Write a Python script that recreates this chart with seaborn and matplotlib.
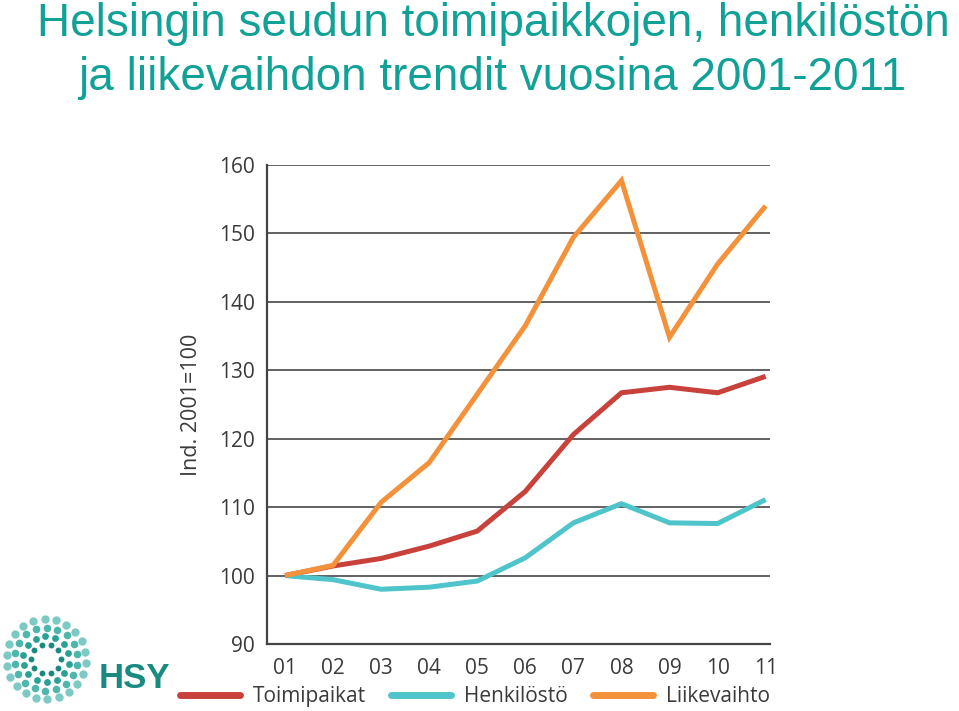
import numpy as np
import pandas as pd
import seaborn as sns
import matplotlib.pyplot as plt
from matplotlib.lines import Line2D

years = ["01", "02", "03", "04", "05", "06", "07", "08", "09", "10", "11"]
toimipaikat = [100, 101.4, 102.5, 104.3, 106.5, 112.3, 120.6, 126.7, 127.5, 126.7, 129.1]
henkilosto = [100, 99.4, 98.0, 98.3, 99.2, 102.6, 107.7, 110.5, 107.7, 107.6, 111.1]
liikevaihto = [100, 101.5, 110.7, 116.5, 126.5, 136.5, 149.4, 157.7, 134.8, 145.5, 154.0]
series_names = ["Toimipaikat", "Henkilöstö", "Liikevaihto"]
yticks = [90, 100, 110, 120, 130, 140, 150, 160]

colors = ["#c8413a", "#4fc4ca", "#f3923a"]

df = pd.DataFrame({
    "x": list(range(len(years))) * 3,
    "value": toimipaikat + henkilosto + liikevaihto,
    "series": [series_names[0]] * len(years) + [series_names[1]] * len(years) + [series_names[2]] * len(years),
})

sns.set_theme(style="white")
plt.rcParams["font.family"] = ["Open Sans", "DejaVu Sans"]

fig = plt.figure(figsize=(9.59, 7.11), dpi=100)
ax = fig.add_axes([0.2784, 0.0942, 0.525, 0.674])

sns.lineplot(data=df, x="x", y="value", hue="series", palette=colors,
             hue_order=series_names, linewidth=3.6, ax=ax, legend=False,
             solid_joinstyle="miter", solid_capstyle="butt")

ax.set_ylim(90, 160)
ax.set_xlim(-0.375, 10.1)
ax.set_yticks(yticks)
ax.set_xticks(range(len(years)))
ax.set_xticklabels(years)
ax.grid(axis="y", color="#555555", linewidth=1.3)
ax.set_axisbelow(True)
for s in ["top", "right"]:
    ax.spines[s].set_visible(False)
for s in ["left", "bottom"]:
    ax.spines[s].set_color("#444444")
    ax.spines[s].set_linewidth(1.6)
ax.tick_params(axis="both", colors="#3a3a3a", labelsize=15, length=0)
ax.tick_params(axis="x", pad=10)
ax.tick_params(axis="y", pad=9)
ax.set_xlabel("")
ax.set_ylabel("Ind. 2001=100", fontsize=15.5, color="#3a3a3a", labelpad=12)

# legend
handles = [Line2D([0], [0], color=c, linewidth=5) for c in colors]
fig.legend(handles, series_names, loc="center", bbox_to_anchor=(0.495, 0.02), ncol=3,
           frameon=False, fontsize=15, labelcolor="#3a3a3a", handlelength=2.9,
           columnspacing=1.2, handletextpad=0.6)

# title
title_color = "#12a196"
fig.text(0.0386, 0.997, "Helsingin seudun toimipaikkojen, henkilöstön", ha="left", va="top",
         fontsize=33, color=title_color, family="Liberation Sans")
fig.text(0.081, 0.921, "ja liikevaihdon trendit vuosina 2001-2011", ha="left", va="top",
         fontsize=33, color=title_color, family="Liberation Sans")

# HSY logo (decorative)
lax = fig.add_axes([0.0, 0.008, 0.096, 0.13])
lax.set_xlim(-1.1, 1.1)
lax.set_ylim(-1.1, 1.1)
lax.axis("off")
ring_r = [0.35, 0.55, 0.75, 0.95]
ring_c = ["#1a8a80", "#2aa197", "#4db6ad", "#7ccac3"]
for i, (r, c) in enumerate(zip(ring_r, ring_c)):
    n = 10 + 4 * i
    ang = np.linspace(0, 2 * np.pi, n, endpoint=False) + i * 0.25
    lax.scatter(r * np.cos(ang), r * np.sin(ang), s=18 + 6 * i, color=c, linewidths=0)
fig.text(0.103, 0.022, "HSY", fontsize=25, fontweight="bold", color="#1a8a80",
         family="Liberation Sans", ha="left", va="bottom")

fig.savefig("out.png", dpi=100)
